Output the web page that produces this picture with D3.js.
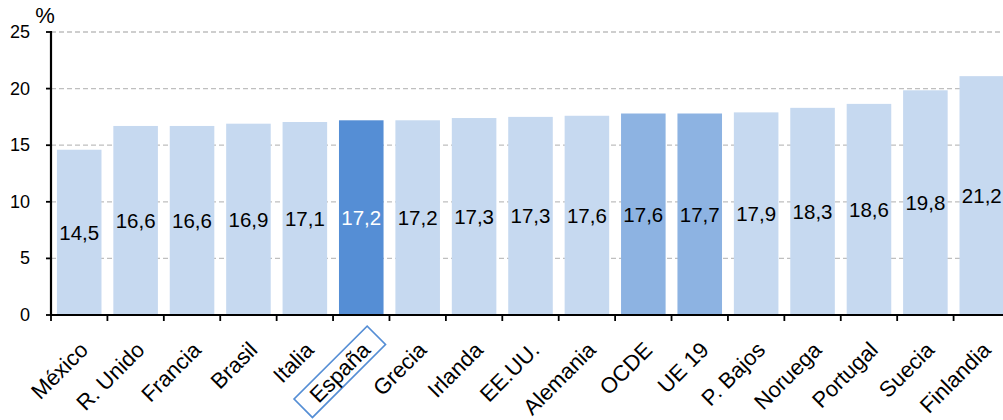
<!DOCTYPE html>
<html><head><meta charset="utf-8">
<script src="https://cdn.jsdelivr.net/npm/d3@7"></script>
<style>
html,body{margin:0;padding:0;background:#fff;}
svg{display:block;font-family:"Liberation Sans",Arial,sans-serif;}
</style></head>
<body><svg id="c" width="1003" height="420"></svg>
<script>
const categories = ["México","R. Unido","Francia","Brasil","Italia","España","Grecia","Irlanda","EE.UU.","Alemania","OCDE","UE 19","P. Bajos","Noruega","Portugal","Suecia","Finlandia"];
const values = [14.6,16.7,16.7,16.9,17.05,17.2,17.2,17.4,17.5,17.6,17.8,17.8,17.9,18.3,18.65,19.85,21.1];
const valueLabels = ["14,5","16,6","16,6","16,9","17,1","17,2","17,2","17,3","17,3","17,6","17,6","17,7","17,9","18,3","18,6","19,8","21,2"];
const highlight = ["España"];
const aggregates = ["OCDE","UE 19"];
const yTicks = [0,5,10,15,20,25];

const svg = d3.select("#c");
const mLeft = 51, mRight = 1010, mTop = 32, mBottom = 315;
const x = d3.scaleBand().domain(categories).range([mLeft, mRight]).paddingInner(0.21).paddingOuter(0.105);
const y = d3.scaleLinear().domain([0,25]).range([mBottom, mTop]);
const step = x.step();
const colorOf = c => highlight.includes(c) ? "#558ed5" : aggregates.includes(c) ? "#8db3e2" : "#c6d9f0";

// gridlines
svg.append("g").selectAll("line").data(yTicks.filter(t=>t>0)).join("line")
  .attr("x1", mLeft).attr("x2", 1003).attr("y1", d=>y(d)).attr("y2", d=>y(d))
  .attr("stroke", "#bfbfbf").attr("stroke-width", 1.3).attr("stroke-dasharray", "5,3");

// bars
svg.append("g").selectAll("rect").data(categories).join("rect")
  .attr("x", d=>x(d)).attr("width", x.bandwidth())
  .attr("y", (d,i)=>y(values[i])).attr("height", (d,i)=>y(0)-y(values[i]))
  .attr("fill", d=>colorOf(d));

// value labels
svg.append("g").selectAll("text").data(categories).join("text")
  .attr("x", d=>x(d)+x.bandwidth()/2)
  .attr("y", (d,i)=>(y(values[i])+y(0))/2)
  .attr("text-anchor","middle").attr("dominant-baseline","central")
  .attr("font-size", 20.5)
  .attr("fill", d=>highlight.includes(d) ? "#ffffff" : "#000000")
  .text((d,i)=>valueLabels[i]);

// y axis
const ya = svg.append("g");
ya.append("line").attr("x1",mLeft).attr("x2",mLeft).attr("y1",y(25)-1).attr("y2",y(0)+1).attr("stroke","#000").attr("stroke-width",2.2);
ya.selectAll("line.t").data(yTicks).join("line").attr("class","t")
  .attr("x1",mLeft-5).attr("x2",mLeft).attr("y1",d=>y(d)).attr("y2",d=>y(d)).attr("stroke","#000").attr("stroke-width",1.8);
ya.selectAll("text").data(yTicks).join("text")
  .attr("x", 30).attr("y", d=>y(d)).attr("text-anchor","end").attr("dominant-baseline","central")
  .attr("font-size", 18).attr("fill","#000").text(d=>d);
svg.append("text").attr("x", 45).attr("y", 23).attr("text-anchor","middle").attr("font-size", 22).text("%");

// x axis
const xa = svg.append("g");
xa.append("line").attr("x1",mLeft).attr("x2",1003).attr("y1",y(0)).attr("y2",y(0)).attr("stroke","#000").attr("stroke-width",2.2);
const bounds = d3.range(categories.length+1).map(i=>mLeft + i*step);
xa.selectAll("line.t").data(bounds).join("line").attr("class","t")
  .attr("x1",d=>d).attr("x2",d=>d).attr("y1",y(0)).attr("y2",y(0)+6).attr("stroke","#000").attr("stroke-width",1.8);

const lab = xa.selectAll("g.l").data(categories).join("g").attr("class","l")
  .attr("transform", d=>`translate(${x(d)+x.bandwidth()/2+5},${346}) rotate(-45)`);
lab.append("text").attr("text-anchor","end").attr("dominant-baseline","central")
  .attr("font-size", 22).attr("fill","#000").text(d=>d);
lab.filter(d=>highlight.includes(d)).each(function(){
  const g = d3.select(this);
  const bb = g.select("text").node().getBBox();
  g.insert("rect","text").attr("x", bb.x-14).attr("y", bb.y-1).attr("width", bb.width+28).attr("height", bb.height+1)
   .attr("fill","none").attr("stroke","#558ed5").attr("stroke-width",1.6);
});
</script></body></html>
